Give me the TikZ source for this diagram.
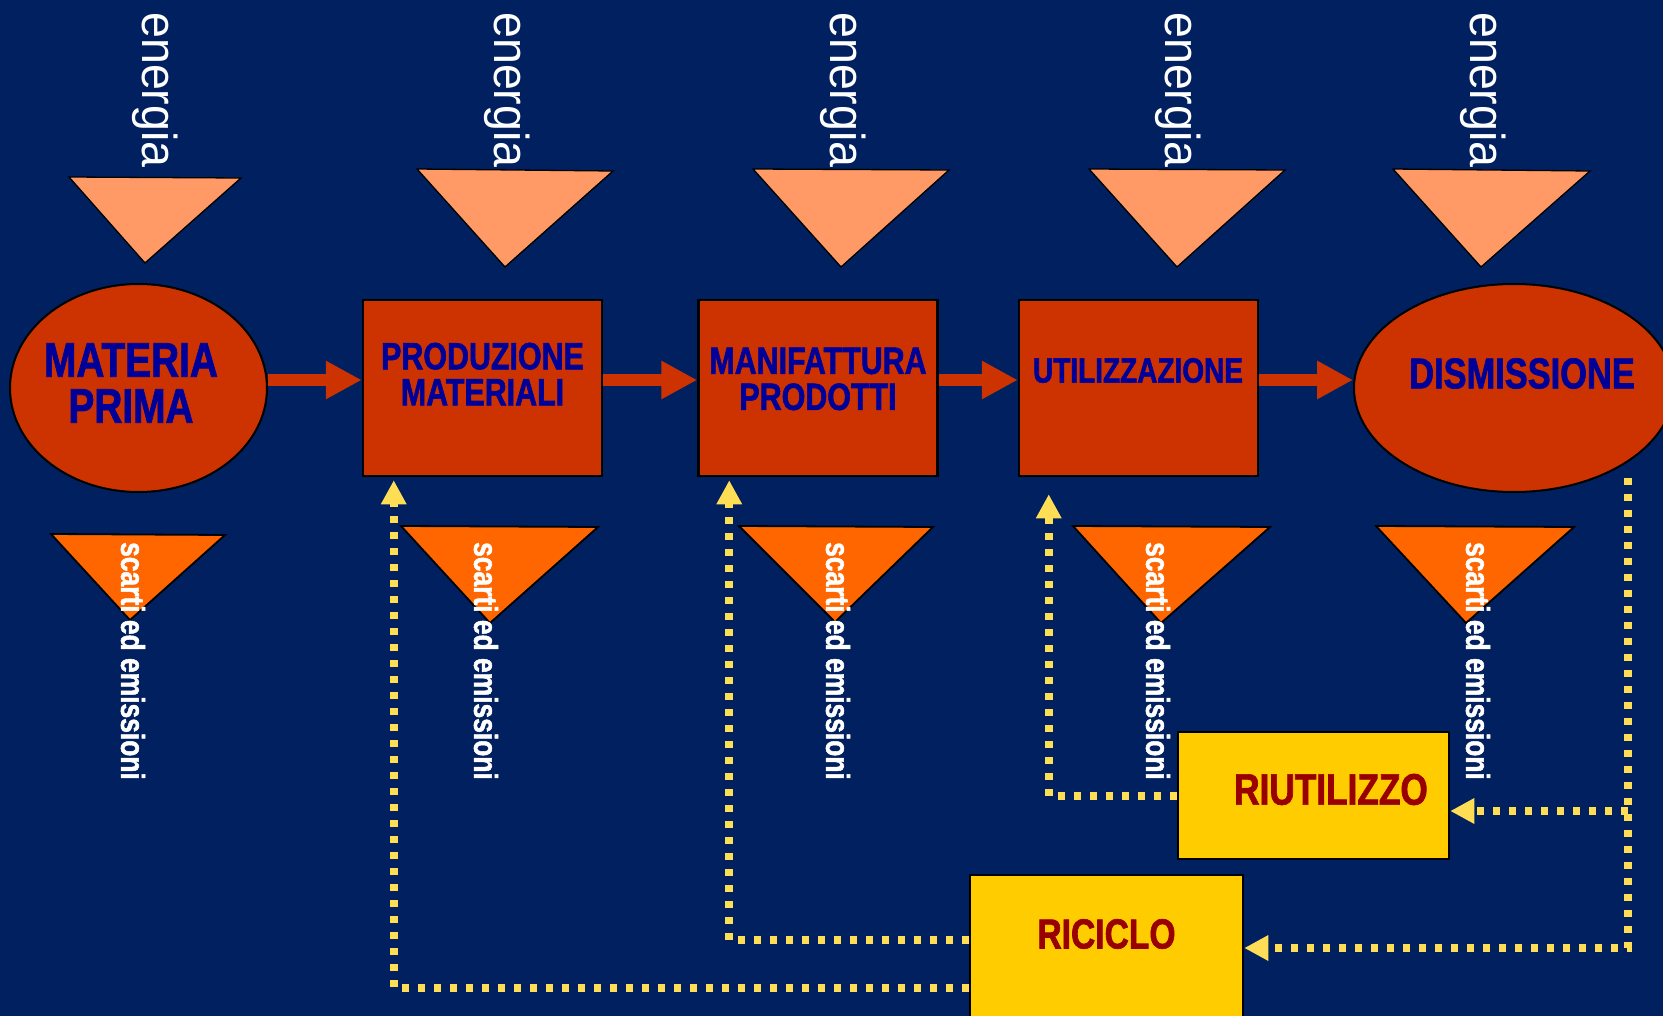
\documentclass[tikz,border=0pt]{standalone}
\usepackage{fontspec}
\setmainfont{Liberation Sans}
\newfontfamily\narrowfont[FakeStretch=0.8, BoldFeatures={FakeBold=1.5}]{Liberation Sans}
\newfontfamily\widefont[FakeStretch=0.95]{Liberation Sans}
\usetikzlibrary{shapes.geometric,arrows.meta,calc}
\definecolor{navybg}{RGB}{0,32,96}
\definecolor{energyorange}{RGB}{255,153,102}
\definecolor{wasteorange}{RGB}{255,102,0}
\definecolor{stagered}{RGB}{204,51,0}
\definecolor{stageblue}{RGB}{0,0,153}
\definecolor{loopyellow}{RGB}{255,204,0}
\definecolor{loopred}{RGB}{153,0,0}
\definecolor{dotyellow}{RGB}{255,222,85}

\begin{document}
\begin{tikzpicture}[x=1pt, y=-1pt,
        stage/.style={draw=black, line width=2.5pt, fill=stagered, inner sep=0pt},
        stagebox/.style={stage, rectangle, minimum width=239pt, minimum height=176pt},
        stageoval/.style={stage, ellipse, line width=2pt, minimum height=208pt},
        stagetext/.style n args={2}{text=stageblue, align=center, inner sep=0pt, font=\narrowfont\bfseries\fontsize{#1}{#2}\selectfont},
        loopbox/.style={draw=black, line width=2.5pt, fill=loopyellow, inner sep=0pt},
        looptext/.style={text=loopred, inner sep=0pt, font=\narrowfont\bfseries\fontsize{#1}{#1}\selectfont},
        flowarrow/.style={draw=stagered, line width=12pt, -{Triangle[length=36pt,width=36pt]}},
        recycle/.style={draw=dotyellow, line width=8pt, dash pattern=on 7pt off 9pt, -{Triangle[length=24pt,width=24pt]}},
        inputtri/.style={fill=energyorange, draw=black, line width=1.3pt},
        outputtri/.style={fill=wasteorange, draw=black, line width=1.8pt},
        energylabel/.style={text=white, rotate=-90, inner sep=0pt, font=\widefont\fontsize{49}{49}\selectfont},
        wastelabel/.style={text=white, rotate=-90, inner sep=0pt, font=\narrowfont\bfseries\fontsize{33}{33}\selectfont}]
    \useasboundingbox (0,0) rectangle (1663,1016);
    \fill[navybg] (0,0) rectangle (1663,1016);
    % energia in ingresso
    \foreach \ax/\ay/\bx/\by/\cx/\cy in {69/177/241/178/145/263, 417/169/613/171/505/267,
            753/169/949/170/841/267, 1089/169/1285/170/1177/267, 1393/169/1590/171/1481/267}
        \filldraw[inputtri] (\ax,\ay) -- (\bx,\by) -- (\cx,\cy) -- cycle;
    \foreach \x [count=\i] in {155,507,843,1178,1483}
        \node[energylabel] (energia\i) at (\x,90) {energia};
    % scarti in uscita
    \foreach \ax/\ay/\bx/\by/\cx/\cy in {51/534/225/535/130/620, 401/526/598/527/490/623,
            739/526/933/527/835/622, 1073/526/1270/527/1161/623, 1376/526/1574/527/1466/623}
        \filldraw[outputtri] (\ax,\ay) -- (\bx,\by) -- (\cx,\cy) -- cycle;
    \foreach \x [count=\i] in {133,486,838,1158,1478}
        \node[wastelabel] (scarti\i) at (\x,661) {scarti ed emissioni};
    % fasi del ciclo di vita
    \node[stageoval, minimum width=257pt] (materia) at (138.5,388) {};
    \node[stagebox] (produzione) at (482.5,388) {};
    \node[stagebox] (manifattura) at (818,388) {};
    \node[stagebox] (utilizzazione) at (1138.5,388) {};
    \node[stageoval, minimum width=320pt] (dismissione) at (1514,388) {};
    \node[stagetext={48.5}{46}] (materia-t) at (131,383) {MATERIA\\PRIMA};
    \node[stagetext={38}{36}] (produzione-t) at (482.5,374) {PRODUZIONE\\MATERIALI};
    \node[stagetext={38}{36}] (manifattura-t) at (818,379) {MANIFATTURA\\PRODOTTI};
    \node[stagetext={35}{35}] (utilizzazione-t) at (1138,370.5) {UTILIZZAZIONE};
    \node[stagetext={43}{43}] (dismissione-t) at (1522,373.5) {DISMISSIONE};
    \draw[flowarrow] ([yshift=8pt]materia.east) -- ([yshift=8pt]produzione.west);
    \draw[flowarrow] ([yshift=8pt]produzione.east) -- ([yshift=8pt]manifattura.west);
    \draw[flowarrow] ([yshift=8pt]manifattura.east) -- ([yshift=8pt]utilizzazione.west);
    \draw[flowarrow] ([yshift=8pt]utilizzazione.east) -- ([yshift=8pt]dismissione.west);
    % riutilizzo e riciclo
    \node[loopbox, minimum width=271pt, minimum height=127pt] (riutilizzo) at (1313.5,795.5) {};
    \node[loopbox, minimum width=273pt, minimum height=160pt] (riciclo) at (1106.5,955) {};
    \node[looptext=44] (riutilizzo-t) at (1331,789.5) {RIUTILIZZO};
    \node[looptext=42] (riciclo-t) at (1106.5,934) {RICICLO};
    \draw[recycle] (riutilizzo.west) -| ($(utilizzazione.south west)+(31,17)$);
    \draw[recycle] ([yshift=15pt]riciclo.west) -| ($(manifattura.south west)+(32,3)$);
    \draw[recycle] ([yshift=-33pt]riciclo.west) -| ($(produzione.south west)+(32,3)$);
    \coordinate (drop) at ($(dismissione.south)+(114,-15)$);
    \coordinate (fork) at ($(drop)+(0,333)$);
    \draw[recycle] (drop) |- ([yshift=7pt]riciclo.east);
    \draw[recycle] (fork) -- (fork -| riutilizzo.east);
\end{tikzpicture}
\end{document}
